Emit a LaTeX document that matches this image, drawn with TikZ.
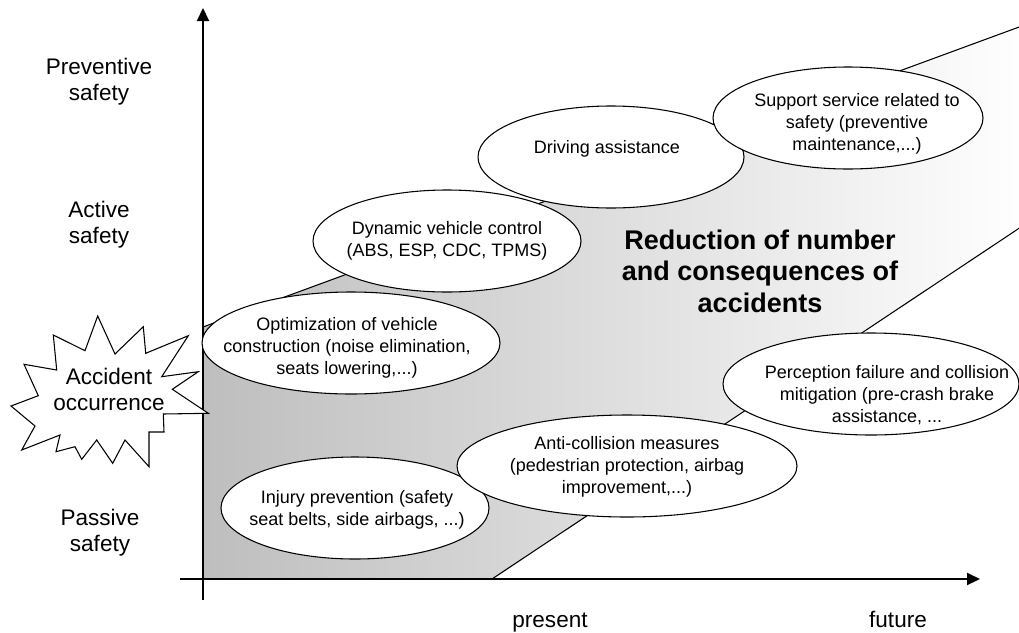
\documentclass[tikz,border=0pt]{standalone}
\usepackage{fontspec}
\setmainfont{Liberation Sans}
\usetikzlibrary{arrows.meta,shapes.geometric}
\definecolor{shadegray}{RGB}{190,190,190}
\begin{document}
\begin{tikzpicture}[x=0.75pt,y=-0.75pt,
  bubble/.style={ellipse, draw=black, fill=white, line width=0.8pt, inner sep=0pt},
  btext/.style={align=center, font=\fontsize{13.5}{16.3}\selectfont, inner sep=0pt},
  lbl/.style={align=center, font=\fontsize{16.9}{19.5}\selectfont, inner sep=0pt},
  axisline/.style={line width=1.5pt, -{Triangle[length=9.75pt,width=9pt]}},
  edge/.style={line width=0.8pt},
  burst/.style={draw=black, fill=white, line width=0.8pt, line join=miter}]
\useasboundingbox (0,0) rectangle (1019,632);
\clip (0,0) rectangle (1019,632);

% shaded band
\coordinate (ra) at (203,579);
\coordinate (rb) at (203,327);
\coordinate (rc) at (1030,23);
\coordinate (rd) at (1030,221);
\coordinate (re) at (492,579);
\shade[left color=shadegray, right color=white] (ra) -- (rb) -- (rc) -- (rd) -- (re) -- cycle;
\draw[edge] (rb) -- (rc);
\draw[edge] (re) -- (rd);

% axes
\coordinate (yb) at (203,600);
\coordinate (yt) at (203,8);
\coordinate (xl) at (180,579);
\coordinate (xr) at (980,579);
\draw[axisline] (yb) -- (yt);
\draw[axisline] (xl) -- (xr);

% ellipses
\node[bubble, minimum width=223.5pt, minimum height=76.5pt] (e1) at (351,343) {};
\node[bubble, minimum width=201pt, minimum height=76.5pt] (e2) at (447,241) {};
\node[bubble, minimum width=199.5pt, minimum height=76.5pt] (e3) at (611,157) {};
\node[bubble, minimum width=202.5pt, minimum height=76.5pt] (e4) at (848,118) {};
\node[bubble, minimum width=201pt, minimum height=76.5pt] (e5) at (355,508) {};
\node[bubble, minimum width=255pt, minimum height=76.5pt] (e6) at (627,466) {};
\node[bubble, minimum width=222pt, minimum height=76.5pt] (e7) at (871,384) {};

\node[btext] (t1) at (347,348) {Optimization of vehicle\\construction (noise elimination,\\seats lowering,...)};
\node[btext] (t2) at (447,241) {Dynamic vehicle control\\(ABS, ESP, CDC, TPMS)};
\node[btext] (t3) at (607,149) {Driving assistance};
\node[btext] (t4) at (857,124) {Support service related to\\safety (preventive\\maintenance,...)};
\node[btext] (t5) at (357,510) {Injury prevention (safety\\seat belts, side airbags, ...)};
\node[btext] (t6) at (627,467) {Anti-collision measures\\(pedestrian protection, airbag\\improvement,...)};
\node[btext] (t7) at (887,395) {Perception failure and collision\\mitigation (pre-crash brake\\assistance, ...};

% starburst
\draw[burst] (97.7,316) -- (115,354) -- (143.3,326.7) -- (145.7,353.3) -- (188.3,335.7)
  -- (161.7,376.7) -- (198.3,371.7) -- (172.3,389.3) -- (208.3,413.3) -- (163.3,414)
  -- (164,432) -- (149,432) -- (149,466.7) -- (125,440) -- (112.7,463.3) -- (96.7,440)
  -- (81.7,459.3) -- (75,446.7) -- (56,451.7) -- (60,435) -- (21.7,450) -- (35,426)
  -- (11,406) -- (38.3,395.7) -- (24,364.3) -- (56.7,370) -- (53.3,335) -- (85,350.7) -- cycle;
\node[lbl] (acc) at (109,389) {Accident\\occurrence};

% axis labels
\node[lbl] (prev) at (99,82) {Preventive\\safety};
\node[lbl] (act) at (99,225) {Active\\safety};
\node[lbl] (pas) at (100,533) {Passive\\safety};
\node[lbl, anchor=base] (pres) at (550,627) {present};
\node[lbl, anchor=base] (fut) at (898,627) {future};

\node[align=center, inner sep=0pt, font=\fontsize{20.25}{23.6}\selectfont\bfseries] (red) at (760,271)
  {Reduction of number\\and consequences of\\accidents};
\end{tikzpicture}
\end{document}
